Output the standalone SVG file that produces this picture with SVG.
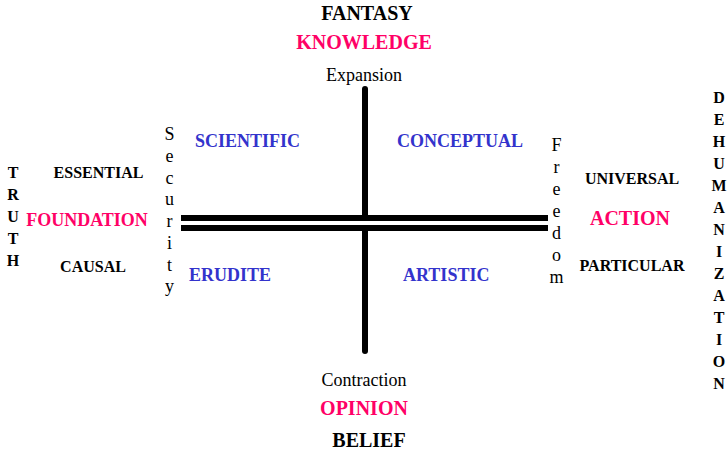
<svg xmlns="http://www.w3.org/2000/svg" width="727" height="451" viewBox="0 0 727 451" font-family="'Liberation Serif', Tinos, 'Times New Roman', 'DejaVu Serif', serif">
<style>
text{font-family:'Liberation Serif', Tinos, 'Times New Roman', 'DejaVu Serif', serif;}
.b{font-weight:bold;}
.c{text-anchor:middle;}
.pink{fill:#ff0066;font-weight:bold;}
.blue{fill:#3333cc;font-weight:bold;font-size:18px;}
.axis{stroke:#000;stroke-width:6;fill:none;}
</style>
<rect width="727" height="451" fill="#fff"/>
<g id="connectors">
<path class="axis" d="M181 218H548M181 228H548"/>
<path class="axis" d="M365 89V215" stroke-linecap="round"/>
<path class="axis" d="M365 213V215"/>
<path class="axis" d="M365 231V351" stroke-linecap="round"/>
<path class="axis" d="M365 231V233"/>
</g>
<g id="top">
<text class="b c" x="367" y="20" font-size="20">FANTASY</text>
<text class="pink c" x="364" y="49" font-size="20">KNOWLEDGE</text>
<text class="c" x="364" y="81" font-size="18">Expansion</text>
</g>
<g id="bottom">
<text class="c" x="364" y="386" font-size="18">Contraction</text>
<text class="pink c" x="364" y="415" font-size="20">OPINION</text>
<text class="b c" x="369" y="447" font-size="20">BELIEF</text>
</g>
<g id="scientific"><text class="blue" x="195" y="147">SCIENTIFIC</text></g>
<g id="conceptual"><text class="blue" x="397" y="147">CONCEPTUAL</text></g>
<g id="erudite"><text class="blue" x="189" y="281">ERUDITE</text></g>
<g id="artistic"><text class="blue" x="403" y="281">ARTISTIC</text></g>
<g id="left">
<text class="b c" x="98.5" y="178" font-size="16">ESSENTIAL</text>
<text class="pink c" x="87" y="226" font-size="18">FOUNDATION</text>
<text class="b c" x="93" y="272" font-size="16">CAUSAL</text>
</g>
<g id="right">
<text class="b c" x="632" y="184" font-size="16">UNIVERSAL</text>
<text class="pink c" x="630" y="225" font-size="20">ACTION</text>
<text class="b c" x="632" y="271" font-size="16">PARTICULAR</text>
</g>
<g id="truth" class="b" font-size="16">
<text class="c" x="13" y="178">T</text>
<text class="c" x="13" y="200">R</text>
<text class="c" x="13" y="222">U</text>
<text class="c" x="13" y="244">T</text>
<text class="c" x="13" y="266">H</text>
</g>
<g id="security" font-size="18">
<text class="c" x="169.5" y="140">S</text>
<text class="c" x="169.5" y="162">e</text>
<text class="c" x="169.5" y="184">c</text>
<text class="c" x="169.5" y="205">u</text>
<text class="c" x="169.5" y="227">r</text>
<text class="c" x="169.5" y="249">i</text>
<text class="c" x="169.5" y="271">t</text>
<text class="c" x="169.5" y="292">y</text>
</g>
<g id="freedom" font-size="18">
<text class="c" x="556.5" y="151">F</text>
<text class="c" x="556.5" y="173">r</text>
<text class="c" x="556.5" y="195">e</text>
<text class="c" x="556.5" y="217">e</text>
<text class="c" x="556.5" y="239">d</text>
<text class="c" x="556.5" y="261">o</text>
<text class="c" x="556.5" y="283">m</text>
</g>
<g id="dehumanization" class="b" font-size="16">
<text class="c" x="719" y="103">D</text>
<text class="c" x="719" y="125">E</text>
<text class="c" x="719" y="147">H</text>
<text class="c" x="719" y="169">U</text>
<text class="c" x="719" y="191">M</text>
<text class="c" x="719" y="213">A</text>
<text class="c" x="719" y="235">N</text>
<text class="c" x="719" y="257">I</text>
<text class="c" x="719" y="279">Z</text>
<text class="c" x="719" y="301">A</text>
<text class="c" x="719" y="323">T</text>
<text class="c" x="719" y="345">I</text>
<text class="c" x="719" y="367">O</text>
<text class="c" x="719" y="389">N</text>
</g>
</svg>
